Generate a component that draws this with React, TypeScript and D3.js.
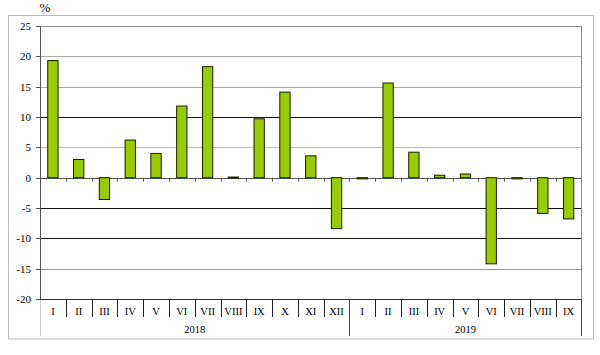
import React from "react";
import * as d3 from "d3";

const months2018 = ["I", "II", "III", "IV", "V", "VI", "VII", "VIII", "IX", "X", "XI", "XII"];
const months2019 = ["I", "II", "III", "IV", "V", "VI", "VII", "VIII", "IX"];
const values2018 = [19.3, 3.0, -3.6, 6.2, 4.0, 11.8, 18.3, 0.1, 9.7, 14.1, 3.6, -8.4];
const values2019 = [-0.2, 15.6, 4.2, 0.4, 0.6, -14.2, -0.2, -5.9, -6.8];
const years = ["2018", "2019"];
const yTicks = [25, 20, 15, 10, 5, 0, -5, -10, -15, -20];
const gridColors: Record<number, string> = {
  25: "#888", 20: "#aaa", 15: "#aaa", 10: "#111", 5: "#bbb", 0: "#555", [-5]: "#111", [-10]: "#111", [-15]: "#999",
};

export default function App() {
  const W = 600, H = 355;
  const left = 40, right = 581.5, top = 26, bottom = 299;
  const cats = [
    ...months2018.map((m, i) => ({ key: `2018-${i}`, label: m, v: values2018[i], year: 0 })),
    ...months2019.map((m, i) => ({ key: `2019-${i}`, label: m, v: values2019[i], year: 1 })),
  ];
  const x = d3.scaleBand<string>().domain(cats.map((c) => c.key)).range([left, right]).paddingInner(0).paddingOuter(0);
  const y = d3.scaleLinear().domain([-20, 25]).range([bottom, top]);
  const bw = x.bandwidth();
  const barW = bw * 0.4;
  const font = "'Liberation Serif', 'Times New Roman', serif";
  const yearStarts = [0, months2018.length, cats.length];

  return (
    <svg width={W} height={H} style={{ position: "absolute", left: 0, top: 0 }} fontFamily={font}>
      <rect x={0} y={0} width={W} height={H} fill="#fff" />
      <rect x={8.5} y={15.5} width={585} height={323.5} fill="none" stroke="#bbb" strokeWidth={1} />
      <text x={45} y={12} fontSize={13} textAnchor="middle">%</text>
      {yTicks.map((t) => (
        <g key={t}>
          {t !== -20 && (
            <line x1={left} x2={right} y1={Math.round(y(t)) + 0.5} y2={Math.round(y(t)) + 0.5} stroke={gridColors[t]} strokeWidth={1} />
          )}
          <line x1={left - 4} x2={left} y1={Math.round(y(t)) + 0.5} y2={Math.round(y(t)) + 0.5} stroke="#555" />
          <text x={31} y={y(t)} dy="0.35em" fontSize={11} textAnchor="end">{t}</text>
        </g>
      ))}
      <line x1={right} x2={right} y1={top} y2={bottom} stroke="#888" />
      {cats.map((c, i) => (
        <line key={"zt" + i} x1={Math.round(x(c.key)!) + 0.5} x2={Math.round(x(c.key)!) + 0.5} y1={y(0)} y2={y(0) + 4} stroke="#555" />
      ))}
      {cats.map((c) => {
        const cx = x(c.key)! + bw / 2;
        const y0 = y(0), y1 = y(c.v);
        return (
          <rect key={c.key} x={cx - barW / 2} y={Math.min(y0, y1)} width={barW} height={Math.max(Math.abs(y1 - y0), 1)}
            fill="#99CC00" stroke="#1a1a00" strokeWidth={1} />
        );
      })}
      <line x1={left + 0.5} x2={left + 0.5} y1={top} y2={bottom} stroke="#555" />
      <line x1={left + 0.5} x2={left + 0.5} y1={bottom} y2={336} stroke="#ccc" />
      <line x1={left} x2={right} y1={bottom + 0.5} y2={bottom + 0.5} stroke="#333" />
      {cats.map((c, i) => (
        <g key={"cl" + i}>
          {i > 0 && !yearStarts.includes(i) && (
            <line x1={Math.round(x(c.key)!) + 0.5} x2={Math.round(x(c.key)!) + 0.5} y1={bottom} y2={317} stroke="#222" />
          )}
          <text x={x(c.key)! + bw / 2} y={315} fontSize={10.5} textAnchor="middle">{c.label}</text>
        </g>
      ))}
      {yearStarts.slice(1).map((s, i) => {
        const xx = s < cats.length ? Math.round(x(cats[s].key)!) + 0.5 : right;
        return <line key={"ys" + i} x1={xx} x2={xx} y1={bottom} y2={336} stroke="#444" />;
      })}
      {years.map((yr, i) => {
        const x0 = x(cats[yearStarts[i]].key)!;
        const x1 = yearStarts[i + 1] < cats.length ? x(cats[yearStarts[i + 1]].key)! : right;
        return <text key={yr} x={(x0 + x1) / 2} y={333} fontSize={10.5} textAnchor="middle">{yr}</text>;
      })}
    </svg>
  );
}
